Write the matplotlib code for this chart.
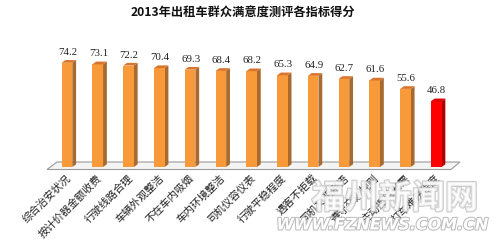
import matplotlib
matplotlib.use("Agg")
import matplotlib.pyplot as plt
from matplotlib.patches import Polygon
import matplotlib.patheffects as pe

plt.rcParams['font.family'] = ['Noto Sans CJK SC', 'DejaVu Sans']

title = "2013年出租车群众满意度测评各指标得分"
categories = ["综合治安状况", "按计价器金额收费", "行驶线路合理", "车辆外观整洁",
              "不在车内吸烟", "车内环境整洁", "司机仪容仪表", "行驶平稳程度",
              "遇客不拒载", "司机文明用语", "遵守交通规则", "主动提供发票",
              "打车难易程度"]
values = [74.2, 73.1, 72.2, 70.4, 69.3, 68.4, 68.2, 65.3, 64.9, 62.7, 61.6, 55.6, 46.8]
highlight = [False] * 12 + [True]

orange = {"front": "#F89A3A", "side": "#A86A2E", "top": "#D9742C"}
red = {"front": "#FF0000", "side": "#B00000", "top": "#D80000"}

fig = plt.figure(figsize=(5, 2.5), dpi=100)
ax = fig.add_axes([0, 0, 1, 1])
ax.set_xlim(-2.177, 14.072)
ax.set_ylim(-59.07, 118.86)
ax.axis('off')

w = 0.345
dx = 0.1235
dy = 1.92
n = len(values)

# floor
floor = Polygon([(-0.65, -1.78), (n - 1 + 0.48, -1.78), (n - 1 + 0.77, 3.56), (-0.325, 3.56)],
                closed=True, facecolor="#F4F4F4", edgecolor="#9A9A9A", lw=0.8, zorder=1)
ax.add_patch(floor)

for i, (v, h) in enumerate(zip(values, highlight)):
    c = red if h else orange
    x0 = i - w / 2
    x1 = i + w / 2
    ax.bar(i, v, width=w, color=c["front"], zorder=3, linewidth=0)
    side = Polygon([(x1, 0), (x1 + dx, dy), (x1 + dx, v + dy), (x1, v)],
                   closed=True, facecolor=c["side"], edgecolor='none', zorder=2)
    top = Polygon([(x0, v), (x1, v), (x1 + dx, v + dy), (x0 + dx, v + dy)],
                  closed=True, facecolor=c["top"], edgecolor='none', zorder=3)
    ax.add_patch(side)
    ax.add_patch(top)
    ax.text(i + 0.02, v + 7.5, f"{v:.1f}", ha='center', va='center', fontsize=7.8,
            family=['Liberation Serif', 'DejaVu Serif'], color="#222222", zorder=5)
    ax.text(i + 0.08, -6.5, categories[i], rotation=45, rotation_mode='anchor',
            ha='right', va='center', fontsize=7.6, color="#222222", zorder=5)

fig.text(0.486, 1 - 13 / 250, title, ha='center', va='center', fontsize=8.8,
         fontweight='bold', color="#111111")

# watermark
wm1 = fig.text(0.79, 1 - 199 / 250, "福州新闻网", ha='center', va='center', fontsize=24,
               color="white", alpha=0.7, style='italic', fontweight='bold', zorder=10)
wm1.set_path_effects([pe.withStroke(linewidth=1.6, foreground="#B8B8B8")])
wm2 = fig.text(0.765, 1 - 225 / 250, "WWW.FZNEWS.COM.CN", ha='center', va='center',
               fontsize=11.5, color="white", style='italic', fontweight='bold',
               family=['DejaVu Sans'], zorder=10)
wm2.set_path_effects([pe.withStroke(linewidth=1.4, foreground="#B8B8B8")])

fig.savefig("out.png", dpi=100)
